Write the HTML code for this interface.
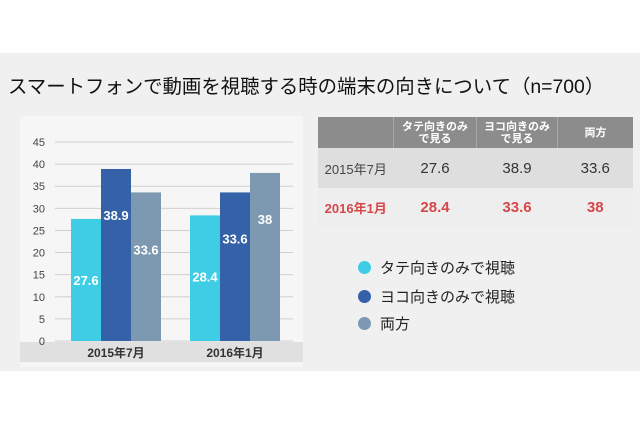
<!DOCTYPE html>
<html><head><meta charset="utf-8">
<style>
body{margin:0;width:640px;height:426px;background:#fff;overflow:hidden;font-family:"Liberation Sans","Noto Sans CJK JP",sans-serif;}
#band{position:absolute;left:0;top:53px;width:640px;height:318px;background:#f0f0f0;}
#title{position:absolute;left:8px;top:70px;font-size:19.4px;color:#111;white-space:nowrap;}
#tbl{position:absolute;left:318px;top:117px;border-collapse:collapse;}
#tbl td{padding:0;text-align:center;}
.h td{background:#8c8c8c;color:#fff;font-size:11px;font-weight:bold;height:31px;line-height:12px;border-right:1px solid #a8a8a8;}
.r1 td{background:#dedede;color:#333;font-size:15px;height:40px;}
.r2 td{background:#eeeeee;color:#d6474a;font-size:15px;font-weight:bold;height:38px;}
.lg{position:absolute;left:358px;font-size:15px;color:#222;white-space:nowrap;}
.lg i{display:inline-block;width:13px;height:13px;border-radius:50%;vertical-align:-1px;margin-right:9px;}
</style></head><body>
<div id="band"></div>
<div id="title">スマートフォンで動画を視聴する時の端末の向きについて（n=700）</div>
<svg id="chart" width="640" height="426" style="position:absolute;left:0;top:0"></svg>
<table id="tbl">
<tr class="h"><td style="width:75px"></td><td style="width:82px">タテ向きのみ<br>で見る</td><td style="width:80px">ヨコ向きのみ<br>で見る</td><td style="width:75px;border-right:none">両方</td></tr>
<tr class="r1"><td style="font-size:13px;color:#444">2015年7月</td><td>27.6</td><td>38.9</td><td>33.6</td></tr>
<tr class="r2"><td style="font-size:13px">2016年1月</td><td>28.4</td><td>33.6</td><td>38</td></tr>
</table>
<div class="lg" style="top:257px"><i style="background:#3fcde6"></i>タテ向きのみで視聴</div>
<div class="lg" style="top:286px"><i style="background:#3461a8"></i>ヨコ向きのみで視聴</div>
<div class="lg" style="top:313px"><i style="background:#7d99b2"></i>両方</div>
<script>
const categories=["2015年7月","2016年1月"];
const tate=[27.6,28.4];
const yoko=[38.9,33.6];
const both=[33.6,38];
const yTicks=[0,5,10,15,20,25,30,35,40,45];
const NS="http://www.w3.org/2000/svg";
const svg=document.getElementById('chart');
const x0=55,x1=293,y0=341,yTop=142,yMax=45;
function ys(v){return y0-(v/yMax)*(y0-yTop);}
function mk(t,a,p){const e=document.createElementNS(NS,t);for(const k in a)e.setAttribute(k,a[k]);(p||svg).appendChild(e);return e;}
const panel=mk('rect',{x:20,y:116,width:283,height:251,fill:'#f6f6f6'});


const cband=mk('rect',{x:20,y:342,width:283,height:20,fill:'#e0e0e0'});


yTicks.forEach(v=>{
 const g=mk('line',{x1:x0,x2:x1,y1:ys(v),y2:ys(v),stroke:'#d0d0d0','stroke-width':1});
 
 
 const t=mk('text',{x:45,y:ys(v)+4,'text-anchor':'end','font-size':11,fill:'#444'});
 t.textContent=v;
 
 
});
const series=[{d:tate,c:'#3fcde6',n:'tate',off:62},{d:yoko,c:'#3461a8',n:'yoko',off:47},{d:both,c:'#7d99b2',n:'both',off:47}];
const groupW=(x1-x0)/categories.length, barW=30;
categories.forEach((cat,i)=>{
 const gx=x0+groupW*i+16;
 series.forEach((s,j)=>{
  const v=s.d[i];
  const r=mk('rect',{x:gx+j*barW,y:ys(v),width:barW,height:y0-ys(v),fill:s.c});
  
  
  const off=(s.n==='both'&&v<36)?58:s.off;
  const t=mk('text',{x:gx+j*barW+barW/2,y:ys(v)+off+4,'text-anchor':'middle','font-size':13,'font-weight':'bold',fill:'#fff'});
  t.textContent=v;
  
  
 });
 const t=mk('text',{x:gx+barW*1.5,y:357,'text-anchor':'middle','font-size':12,'font-weight':'bold',fill:'#333'});
 t.textContent=cat;
 
 
});
</script>
</body></html>
